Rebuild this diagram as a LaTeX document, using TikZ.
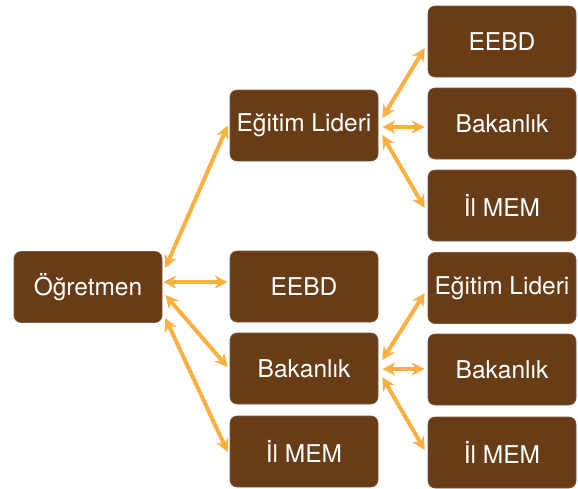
\documentclass[tikz,border=0pt]{standalone}
\usepackage{fontspec}
\setmainfont{TeX Gyre Heros}
\usetikzlibrary{arrows.meta}
\definecolor{boxbrown}{HTML}{673C17}
\definecolor{linkorange}{HTML}{FBB040}
\begin{document}
\begin{tikzpicture}[x=1pt,y=-1pt,
  card/.style={draw=boxbrown!85!white, line width=0.6pt, fill=boxbrown,
    rounded corners=7pt, minimum width=148pt, minimum height=71pt,
    inner sep=0pt, text=white, font=\fontsize{24.5}{29}\selectfont},
  link/.style={draw=linkorange, line width=4pt,
    {Stealth[length=13pt,width=13pt]}-{Stealth[length=13pt,width=13pt]}}]
\useasboundingbox (0,0) rectangle (578,488);

% first level
\node[card] (ogr) at (88,287) {Öğretmen};

% second level
\node[card] (lider) at (304,125.5) {Eğitim Lideri};
\node[card] (eebd)  at (304,286.5) {EEBD};
\node[card] (bakan) at (304,368.5) {Bakanlık};
\node[card] (ilmem) at (304,451.5) {İl MEM};

% third level, under Eğitim Lideri
\node[card] (ra) at (502,41.5)  {EEBD};
\node[card] (rb) at (502,123.5) {Bakanlık};
\node[card] (rc) at (502,205.5) {İl MEM};

% third level, under Bakanlık
\node[card] (rd) at (502,288)   {Eğitim Lideri};
\node[card] (re) at (502,369.5) {Bakanlık};
\node[card] (rf) at (502,452.5) {İl MEM};

% links from Öğretmen
\draw[link] ([shift={(3,-19)}]ogr.east) -- ([shift={(-2,0)}]lider.west);
\draw[link] ([shift={(1,-5)}]ogr.east)  -- ([shift={(-2,-4.5)}]eebd.west);
\draw[link] ([shift={(3,8)}]ogr.east)   -- ([shift={(-2,-1.5)}]bakan.west);
\draw[link] ([shift={(3,31)}]ogr.east)  -- ([shift={(-2,0.5)}]ilmem.west);

% links from Eğitim Lideri
\draw[link] ([shift={(4,-7.5)}]lider.east) -- ([shift={(-3,6.5)}]ra.west);
\draw[link] ([shift={(4,1.5)}]lider.east)  -- ([shift={(-3,3.5)}]rb.west);
\draw[link] ([shift={(4,9.5)}]lider.east)  -- ([shift={(-3,2.5)}]rc.west);

% links from Bakanlık
\draw[link] ([shift={(4,-8.5)}]bakan.east) -- ([shift={(-3,5)}]rd.west);
\draw[link] ([shift={(4,0.5)}]bakan.east)  -- ([shift={(-3,-0.5)}]re.west);
\draw[link] ([shift={(4,8.5)}]bakan.east)  -- ([shift={(-3,-2.5)}]rf.west);
\end{tikzpicture}
\end{document}
